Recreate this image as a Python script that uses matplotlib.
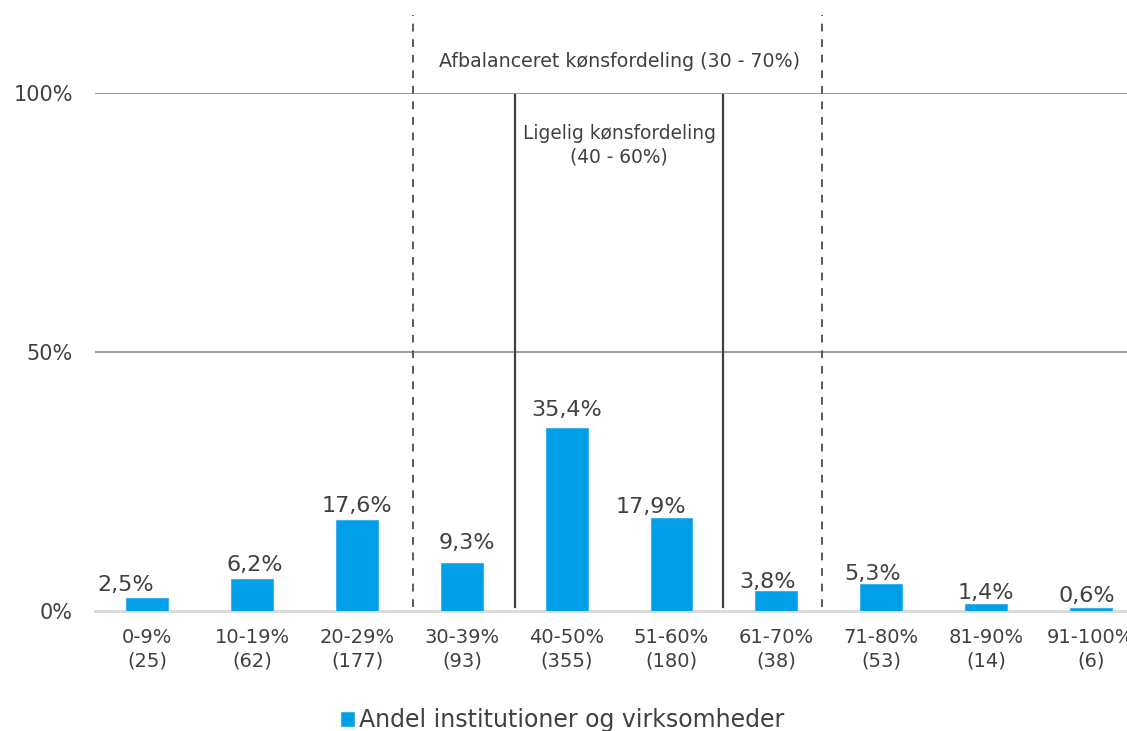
import numpy as np
import matplotlib.pyplot as plt

categories = ["0-9%", "10-19%", "20-29%", "30-39%", "40-50%",
              "51-60%", "61-70%", "71-80%", "81-90%", "91-100%"]
counts = [25, 62, 177, 93, 355, 180, 38, 53, 14, 6]
shares = [2.5, 6.2, 17.6, 9.3, 35.4, 17.9, 3.8, 5.3, 1.4, 0.6]
series_name = "Andel institutioner og virksomheder"

# label nudges (category units / percentage points above the bar)
label_dx = [-0.205, 0.02, 0, 0.05, 0, -0.195, -0.085, -0.085, 0, -0.04]
label_dy = [1.35, 1.55, 1.55, 2.7, 2.3, 0.95, 0.75, 0.75, 0.95, 1.15]

blue = "#009FE8"
txt = "#404040"

plt.rcParams['font.family'] = ['DejaVu Sans']

fig = plt.figure(figsize=(11.27, 7.31), dpi=100)
ax = fig.add_axes([0.0843, 0.164, 0.93, 0.7086])

x = np.arange(len(categories))
bars = ax.bar(x, shares, width=0.4, color=blue, edgecolor="#3DB4EE",
              linewidth=0.8, label=series_name, zorder=3)

for xi, v, dx, dy in zip(x, shares, label_dx, label_dy):
    lbl = f"{v:.1f}%".replace(".", ",")
    ax.text(xi + dx, v + dy, lbl, ha="center", va="baseline",
            fontsize=16, color=txt, zorder=4)

ax.set_xlim(-0.5, 9.5)
ax.set_ylim(0, 100)
ax.set_yticks([0, 50, 100])
ax.set_yticklabels(["0%", "50%", "100%"])
ax.set_xticks(x)
ax.set_xticklabels([f"{c}\n({n})" for c, n in zip(categories, counts)],
                   linespacing=1.3)
ax.tick_params(axis="x", length=0, labelsize=14, colors=txt, pad=12)
ax.tick_params(axis="y", length=0, labelsize=15, colors=txt, pad=16)

for s in ["top", "right", "left"]:
    ax.spines[s].set_visible(False)
ax.spines["bottom"].set_color("#D9D9D9")
ax.spines["bottom"].set_linewidth(2)

for yv in [50, 100]:
    ax.axhline(yv, color="#8C8C8C", linewidth=1.2, zorder=1)

# balanced range (dashed) and equal range (solid)
for xv in [2.53, 6.44]:
    ax.plot([xv, xv], [0.8, 115], color="#595959", linestyle=(0, (4, 4)),
            linewidth=1.4, clip_on=False, zorder=2)
for xv in [3.51, 5.49]:
    ax.plot([xv, xv], [0.8, 99.6], color="#404040", linewidth=1.6,
            clip_on=False, zorder=2)

ax.text(4.5, 106.2, "Afbalanceret kønsfordeling (30 - 70%)", ha="center",
        va="center", fontsize=13.7, color=txt)
ax.text(4.5, 90, "Ligelig kønsfordeling\n(40 - 60%)", ha="center",
        va="center", fontsize=13.4, color=txt, linespacing=1.3)

fig.legend(handles=[bars], labels=[series_name], loc="center",
           bbox_to_anchor=(0.499, 0.015), frameon=False, fontsize=17,
           handlelength=0.55, handleheight=0.55, handletextpad=0.2,
           labelcolor=txt)

fig.savefig("out.png", dpi=100)
